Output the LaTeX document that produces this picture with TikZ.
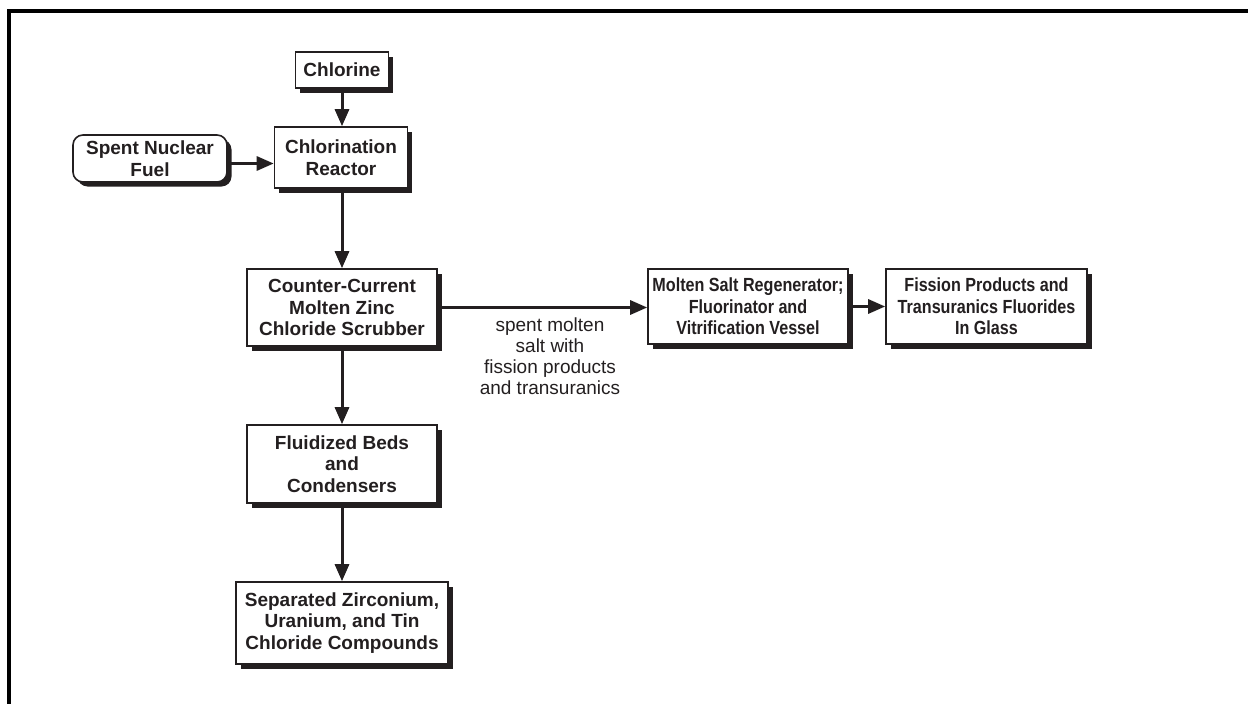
\documentclass[tikz,border=0pt]{standalone}
\usepackage{fontspec}
\setmainfont{Liberation Sans}
\newfontfamily\narrowsans{Liberation Sans}[FakeStretch=0.85]
\usetikzlibrary{arrows.meta,shadows}
\definecolor{ink}{HTML}{231F20}
\tikzset{
  x=1pt, y=1pt,
  procbox/.style={draw=ink, line width=1.6pt, fill=white, align=center,
    text=ink, inner sep=0pt,
    font=\fontsize{19}{21.5}\selectfont\bfseries,
    drop shadow={shadow xshift=4.5pt, shadow yshift=-4.5pt, fill=ink, opacity=1}},
  feedbox/.style={procbox, rounded corners=10pt},
  flow/.style={draw=ink, line width=3pt,
    -{Triangle[length=17pt,width=14pt]}},
  note/.style={align=center, text=ink, font=\fontsize{19}{21}\selectfont}
}
\begin{document}
\begin{tikzpicture}
\useasboundingbox (0,0) rectangle (1248,-704);
% frame lines along the top and left edges
\draw[black, line width=4pt] (1248,-10.5) -- (9.3,-10.5) -- (9.3,-704);

% process column
\node[procbox, minimum width=93pt, minimum height=36pt] (chl) at (342,-70) {Chlorine};
\node[procbox, minimum width=133pt, minimum height=61pt] (reac) at (341,-157.5) {Chlorination\\Reactor};
\node[feedbox, minimum width=154pt, minimum height=47pt] (snf) at (150,-158.5) {Spent Nuclear\\Fuel};
\node[procbox, minimum width=190pt, minimum height=77pt] (scrub) at (342,-307.5) {Counter-Current\\Molten Zinc\\Chloride Scrubber};
\node[procbox, minimum width=190pt, minimum height=78pt] (beds) at (342,-464) {Fluidized Beds\\and\\Condensers};
\node[procbox, minimum width=212pt, minimum height=82pt] (sep) at (342,-623) {Separated Zirconium,\\Uranium, and Tin\\Chloride Compounds};

% salt regeneration branch
\node[procbox, minimum width=200pt, minimum height=75pt, font=\fontsize{19}{21.5}\selectfont\narrowsans\bfseries] (regen) at (748,-306.5) {Molten Salt Regenerator;\\Fluorinator and\\Vitrification Vessel};
\node[procbox, minimum width=201pt, minimum height=75pt, font=\fontsize{19}{21.5}\selectfont\narrowsans\bfseries] (glass) at (986.5,-306.5) {Fission Products and\\Transuranics Fluorides\\In Glass};

\node[note] (salt) at (550,-356) {spent molten\\salt with\\fission products\\and transuranics};

% connectors
\draw[flow] (chl.south) -- (chl.south |- reac.north);
\draw[flow] ([yshift=-5pt]snf.east) -- ([yshift=-5pt]snf.east -| reac.west);
\draw[flow] (reac.south -| scrub.north) -- (scrub.north);
\draw[flow] (scrub.south) -- (beds.north);
\draw[flow] (beds.south) -- (sep.north);
\draw[flow] (scrub.east) -- (scrub.east -| regen.west);
\draw[flow] (regen.east) -- (glass.west);
\end{tikzpicture}
\end{document}
